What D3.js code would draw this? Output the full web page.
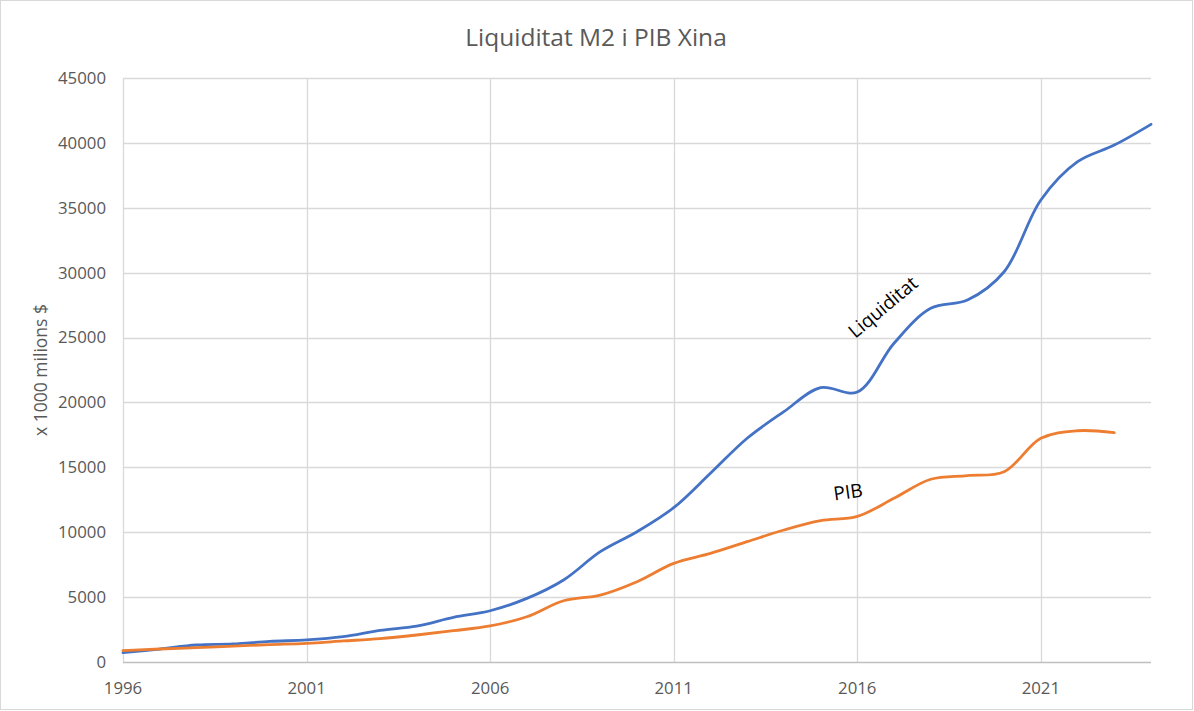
<!DOCTYPE html>
<html>
<head>
<meta charset="utf-8">
<script src="https://cdn.jsdelivr.net/npm/d3@7/dist/d3.min.js"></script>
<style>
  html, body { margin: 0; padding: 0; background: #fff; }
  svg { display: block; }
  text { font-family: "Open Sans", "Noto Sans", sans-serif; }
</style>
</head>
<body>
<div id="chart"></div>
<script>
const years = d3.range(1996, 2025);
const liquiditat = [716, 1000, 1310, 1390, 1590, 1700, 1950, 2440, 2770, 3440, 3950, 4900, 6320, 8500, 10040, 11890, 14540, 17240, 19290, 21140, 20800, 24560, 27250, 27890, 30070, 35600, 38550, 39830, 41430];
const pib = [880, 1000, 1100, 1230, 1340, 1440, 1620, 1800, 2080, 2410, 2780, 3490, 4720, 5160, 6190, 7600, 8370, 9270, 10170, 10890, 11220, 12610, 14080, 14360, 14660, 17240, 17820, 17670];
const yTicks = d3.range(0, 45001, 5000);
const xTicks = [1996, 2001, 2006, 2011, 2016, 2021];
const title = "Liquiditat M2 i PIB Xina";
const yLabel = "x 1000 milions $";

const W = 1194, H = 711;
const m = { left: 123, right: 1151, top: 78, bottom: 662 };

const svg = d3.select("#chart").append("svg").attr("width", W).attr("height", H);

svg.append("rect").attr("x", 0.5).attr("y", 0.5).attr("width", W - 2).attr("height", H - 2)
  .attr("fill", "#fff").attr("stroke", "#d9d9d9").attr("stroke-width", 1);

const x = d3.scaleLinear().domain([1996, 2024]).range([m.left, m.right]);
const y = d3.scaleLinear().domain([0, 45000]).range([m.bottom, m.top]);

// horizontal gridlines
svg.append("g").selectAll("line").data(yTicks.filter(d => d > 0)).join("line")
  .attr("x1", m.left).attr("x2", m.right)
  .attr("y1", d => Math.round(y(d)) + 0.5).attr("y2", d => Math.round(y(d)) + 0.5)
  .attr("stroke", "#d9d9d9").attr("stroke-width", 1.3);

// vertical gridlines
svg.append("g").selectAll("line").data(xTicks).join("line")
  .attr("x1", d => Math.round(x(d)) + 0.5).attr("x2", d => Math.round(x(d)) + 0.5)
  .attr("y1", m.top).attr("y2", m.bottom)
  .attr("stroke", "#d9d9d9").attr("stroke-width", 1.3);

// x axis line
svg.append("line").attr("x1", m.left).attr("x2", m.right)
  .attr("y1", Math.round(y(0)) + 0.5).attr("y2", Math.round(y(0)) + 0.5)
  .attr("stroke", "#bfbfbf").attr("stroke-width", 1.3);

// y tick labels
svg.append("g").selectAll("text").data(yTicks).join("text")
  .attr("x", m.left - 17).attr("y", d => y(d)).attr("dy", "0.35em")
  .attr("text-anchor", "end").attr("font-size", 16.8).attr("fill", "#595959")
  .text(d => d);

// x tick labels
svg.append("g").selectAll("text").data(xTicks).join("text")
  .attr("x", d => x(d)).attr("y", 694)
  .attr("text-anchor", "middle").attr("font-size", 16.8).attr("fill", "#595959")
  .text(d => d);

// title
svg.append("text").attr("x", 596).attr("y", 46).attr("text-anchor", "middle")
  .attr("font-size", 24.5).attr("fill", "#595959").text(title);

// y label
svg.append("text").attr("transform", "translate(47,370) rotate(-90)")
  .attr("text-anchor", "middle").attr("font-size", 17.5).attr("fill", "#595959").text(yLabel);

const line = d3.line().x(d => x(d[0])).y(d => y(d[1])).curve(d3.curveCatmullRom.alpha(0.5));

svg.append("path").datum(years.map((yr, i) => [yr, liquiditat[i]]))
  .attr("fill", "none").attr("stroke", "#4472C4").attr("stroke-width", 2.8)
  .attr("stroke-linejoin", "round").attr("stroke-linecap", "round").attr("d", line);

svg.append("path").datum(pib.map((v, i) => [years[i], v]))
  .attr("fill", "none").attr("stroke", "#ED7D31").attr("stroke-width", 2.8)
  .attr("stroke-linejoin", "round").attr("stroke-linecap", "round").attr("d", line);

// annotations
svg.append("text").attr("transform", "translate(883,307) rotate(-40)")
  .attr("text-anchor", "middle").attr("dy", "0.35em").attr("font-size", 19).attr("fill", "#000").text("Liquiditat");
svg.append("text").attr("transform", "translate(848,492) rotate(-8)")
  .attr("text-anchor", "middle").attr("dy", "0.35em").attr("font-size", 19).attr("fill", "#000").text("PIB");
</script>
</body>
</html>
